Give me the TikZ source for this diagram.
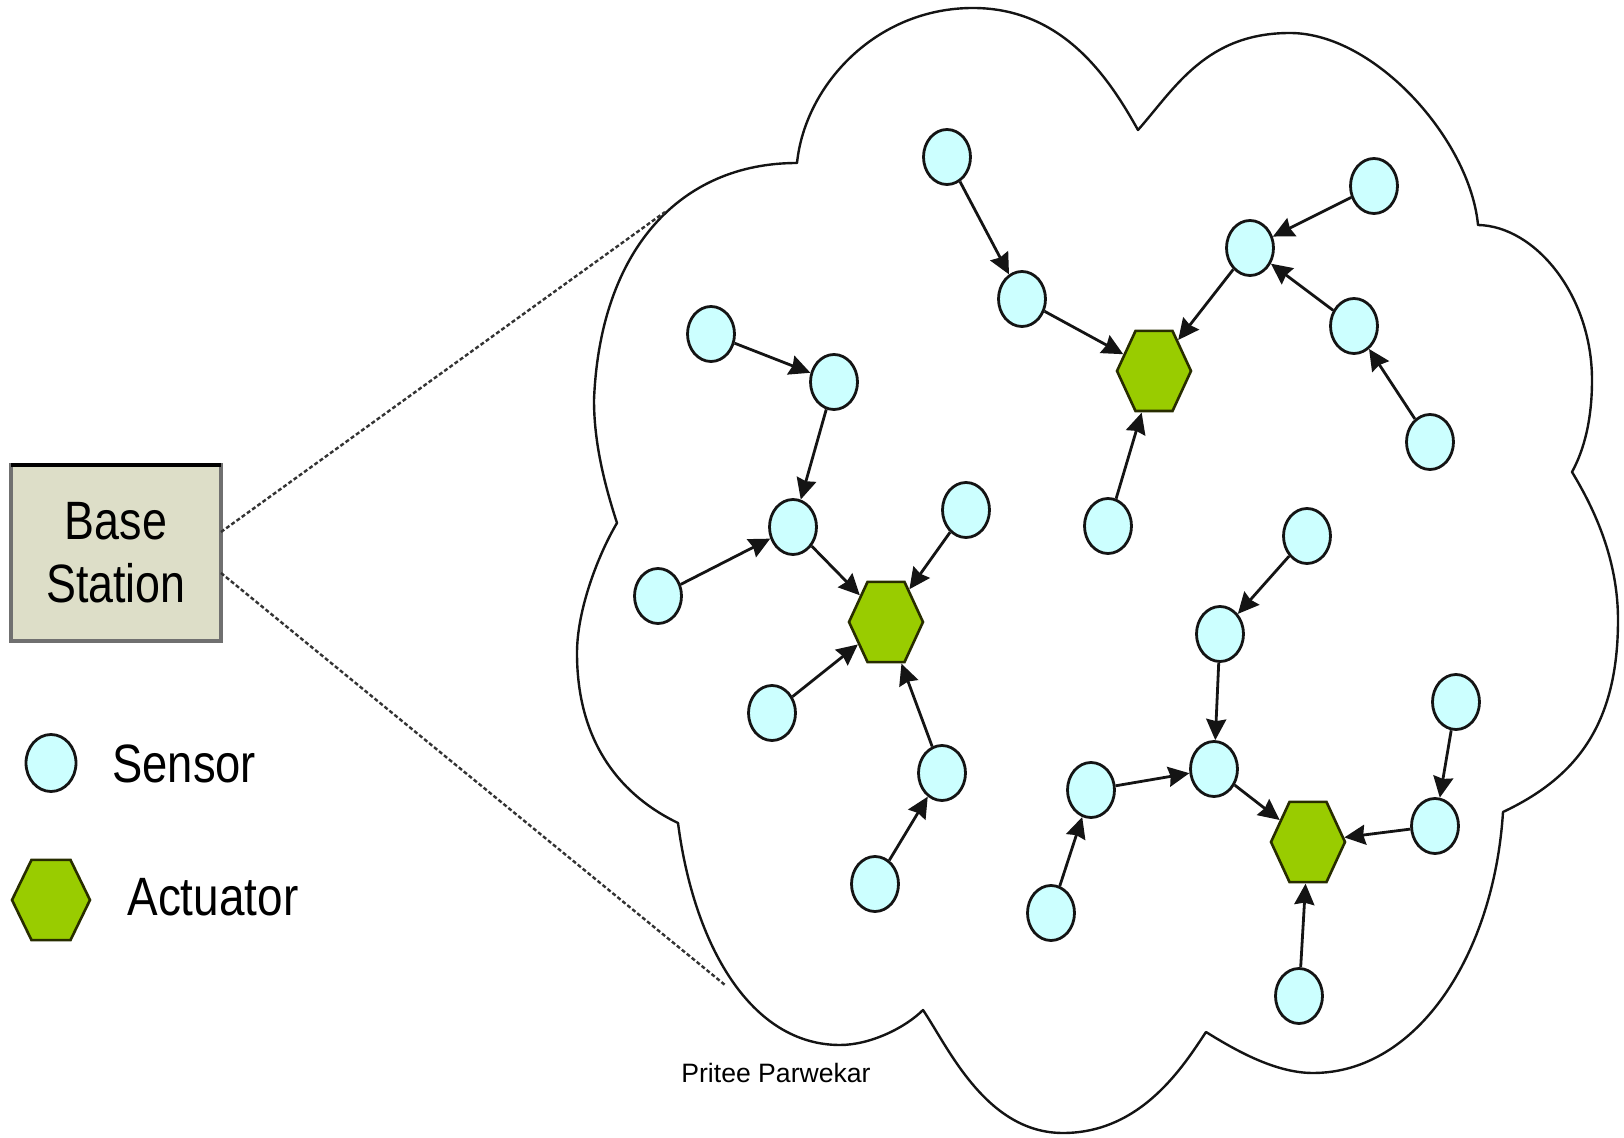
\documentclass[tikz,border=0pt]{standalone}
\usepackage{fontspec}
\setmainfont{Liberation Sans}
\usetikzlibrary{shapes.geometric,arrows.meta}
\definecolor{sensorfill}{RGB}{204,255,255}
\definecolor{actfill}{RGB}{153,204,0}
\definecolor{actline}{RGB}{40,45,0}
\definecolor{bsfill}{RGB}{221,222,200}
\definecolor{bsline}{RGB}{112,112,112}
\definecolor{ink}{RGB}{20,20,20}
\begin{document}
\begin{tikzpicture}[x=0.5pt,y=-0.5pt,
  sensor/.style={ellipse, draw=ink, line width=1.4pt, fill=sensorfill,
    minimum width=23.5pt, minimum height=27.5pt, inner sep=0pt},
  actuator/.style={regular polygon, regular polygon sides=6, draw=actline,
    line width=1.3pt, fill=actfill, minimum size=37pt, inner sep=0pt,
    yscale=1.25, transform shape},
  link/.style={line width=1.4pt, ink, -{Stealth[length=10.5pt,width=10pt,inset=1pt]}},
  cloudline/.style={line width=1.2pt, ink, line join=round},
  bsdash/.style={line width=1.2pt, black!80, dash pattern=on 2pt off 1.2pt},
  big/.style={font=\fontsize{27pt}{31.5pt}\selectfont, inner sep=0pt}
]
\useasboundingbox (0,0) rectangle (1624,1138);

% cloud
\draw[cloudline] (797,163)
 .. controls (805,85) and (876,8) .. (973,8)
 .. controls (1064,8) and (1110,80) .. (1138,130)
 .. controls (1175,88) and (1206,33) .. (1290,33)
 .. controls (1375,33) and (1470,140) .. (1478,225)
 .. controls (1535,226) and (1592,295) .. (1592,380)
 .. controls (1592,420) and (1584,450) .. (1572,472)
 .. controls (1595,510) and (1618,560) .. (1618,620)
 .. controls (1618,726) and (1575,778) .. (1503,812)
 .. controls (1494,955) and (1417,1073) .. (1313,1073)
 .. controls (1275,1073) and (1235,1050) .. (1206,1032)
 .. controls (1184,1065) and (1142,1133) .. (1063,1133)
 .. controls (986,1133) and (948,1047) .. (923,1010)
 .. controls (905,1028) and (870,1045) .. (840,1045)
 .. controls (751,1045) and (694,946) .. (678,823)
 .. controls (624,797) and (577,746) .. (577,653)
 .. controls (577,610) and (598,555) .. (617,523)
 .. controls (603,480) and (594,440) .. (594,400)
 .. controls (600,250) and (680,163) .. (797,163)
 -- cycle;

% base station
\node[draw=bsline, line width=2pt, fill=bsfill, minimum width=105pt, minimum height=88pt,
      inner sep=0pt, outer sep=0pt, big, align=center] (bs) at (116,553)
  {\scalebox{0.83}[1]{Base}\\\scalebox{0.83}[1]{Station}};
\draw[black, line width=2pt] (bs.north west) -- (bs.north east);

\coordinate (cT) at (665,212);
\coordinate (cB) at (725,985);
\draw[bsdash] ([yshift=10.5pt]bs.east) -- (cT);
\draw[bsdash] ([yshift=-10pt]bs.east) -- (cB);

% legend
\node[sensor, minimum width=25pt, minimum height=28.5pt] (lgS) at (51,763) {};
\node[big, anchor=base west] (lgSt) at (112,783) {\scalebox{0.84}[1]{Sensor}};
\node[actuator, minimum size=39pt, yscale=0.95] (lgA) at (51,900) {};
\node[big, anchor=base west] (lgAt) at (127,915) {\scalebox{0.85}[1]{Actuator}};

\node[font=\fontsize{13.3pt}{16pt}\selectfont, inner sep=0pt, anchor=base] (auth) at (776,1082) {Pritee Parwekar};

% actuators
\node[actuator] (A1) at (886,622) {};
\node[actuator] (A2) at (1154,371) {};
\node[actuator] (A3) at (1308,842) {};

% sensors
\node[sensor] (S1) at (711,334) {};
\node[sensor] (S2) at (834,382) {};
\node[sensor] (S3) at (793,527) {};
\node[sensor] (S4) at (658,596) {};
\node[sensor] (S5) at (966,510) {};
\node[sensor] (S6) at (772,713) {};
\node[sensor] (S7) at (942,773) {};
\node[sensor] (S8) at (875,884) {};
\node[sensor] (S9) at (947,157) {};
\node[sensor] (S10) at (1022,299) {};
\node[sensor] (S11) at (1374,186) {};
\node[sensor] (S12) at (1250,248) {};
\node[sensor] (S13) at (1354,326) {};
\node[sensor] (S14) at (1430,442) {};
\node[sensor] (S15) at (1108,526) {};
\node[sensor] (S16) at (1307,536) {};
\node[sensor] (S17) at (1220,634) {};
\node[sensor] (S18) at (1214,769) {};
\node[sensor] (S19) at (1091,790) {};
\node[sensor] (S20) at (1051,913) {};
\node[sensor] (S21) at (1456,702) {};
\node[sensor] (S22) at (1435,826) {};
\node[sensor] (S23) at (1299,996) {};

% links
\draw[link] (S1) -- (S2);
\draw[link] (S2) -- (S3);
\draw[link] (S4) -- (S3);
\draw[link] (S3) -- (A1);
\draw[link] (S5) -- (A1);
\draw[link] (S6) -- (A1);
\draw[link] (S7) -- (A1);
\draw[link] (S8) -- (S7);
\draw[link] (S9) -- (S10);
\draw[link] (S10) -- (A2);
\draw[link] (S12) -- (A2);
\draw[link] (S11) -- (S12);
\draw[link] (S13) -- (S12);
\draw[link] (S14) -- (S13);
\draw[link] (S15) -- (A2);
\draw[link] (S16) -- (S17);
\draw[link] (S17) -- (S18);
\draw[link] (S19) -- (S18);
\draw[link] (S20) -- (S19);
\draw[link] (S18) -- (A3);
\draw[link] (S21) -- (S22);
\draw[link] (S22) -- (A3);
\draw[link] (S23) -- (A3);
\end{tikzpicture}
\end{document}
